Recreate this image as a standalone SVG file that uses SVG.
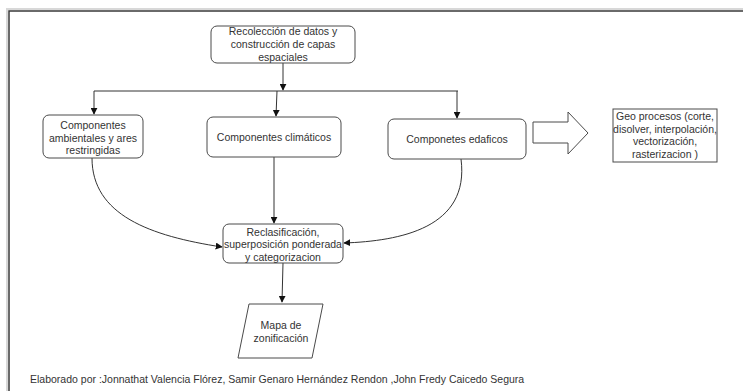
<svg xmlns="http://www.w3.org/2000/svg" width="743" height="391" viewBox="0 0 743 391">
<style>
text{font-family:"Liberation Sans",Arial,sans-serif;font-size:10.5px;fill:#333;text-anchor:middle}
.box{fill:#fff;stroke:#4a4a4a;stroke-width:1}
.ln{fill:none;stroke:#333;stroke-width:1}
</style>
<defs>
<marker id="ah" viewBox="0 0 10 10" refX="9" refY="5" markerWidth="7" markerHeight="7" markerUnits="userSpaceOnUse" orient="auto">
<path d="M0,0 L10,5 L0,10 z" fill="#111"/>
</marker>
</defs>
<rect width="743" height="391" fill="#fff"/>
<g id="frame">
<path d="M7,400 V9 H760" fill="none" stroke="#d8d8d8" stroke-width="2"/>
<path d="M9,400 V11 H760" fill="none" stroke="#3a3a3a" stroke-width="1.5"/>
</g>
<g id="connectors">
<path class="ln" d="M283,63 V90" marker-end="url(#ah)"/>
<path class="ln" d="M94,91 H458"/>
<path class="ln" d="M94,91 V114" marker-end="url(#ah)"/>
<path class="ln" d="M277,91 L276,116" marker-end="url(#ah)"/>
<path class="ln" d="M457,91 V118" marker-end="url(#ah)"/>
<path class="ln" d="M274,157 V223" marker-end="url(#ah)"/>
<path class="ln" d="M92,158 C92,215 150,236 222,247" marker-end="url(#ah)"/>
<path class="ln" d="M461,159 C470,228 400,241 344,243" marker-end="url(#ah)"/>
<path class="ln" d="M283,263 L282,302" marker-end="url(#ah)"/>
</g>
<g id="n-recoleccion">
<rect class="box" x="211" y="26" width="144" height="37" rx="6"/>
<text x="283" y="35">Recolección de datos y</text>
<text x="283" y="48">construcción de capas</text>
<text x="283" y="61">espaciales</text>
</g>
<g id="n-ambientales">
<rect class="box" x="43" y="115" width="100" height="43" rx="6"/>
<text x="93" y="129">Componentes</text>
<text x="93" y="142">ambientales y ares</text>
<text x="93" y="154">restringidas</text>
</g>
<g id="n-climaticos">
<rect class="box" x="207" y="117" width="134" height="40" rx="6"/>
<text x="274" y="141">Componentes climáticos</text>
</g>
<g id="n-edaficos">
<rect class="box" x="388" y="119" width="138" height="40" rx="6"/>
<text x="457" y="143">Componetes edaficos</text>
</g>
<g id="n-blockarrow">
<path class="box" d="M533,122 H568 V112 L588,133 L568,154 V143 H533 Z"/>
</g>
<g id="n-geoprocesos">
<rect class="box" x="613" y="109" width="104" height="53"/>
<text x="665" y="120">Geo procesos (corte,</text>
<text x="665" y="133">disolver, interpolación,</text>
<text x="665" y="145">vectorización,</text>
<text x="665" y="158">rasterizacion )</text>
</g>
<g id="n-reclasificacion">
<rect class="box" x="223" y="224" width="120" height="39" rx="6"/>
<text x="283" y="236">Reclasificación,</text>
<text x="283" y="248">superposición ponderada</text>
<text x="283" y="261">y categorizacion</text>
</g>
<g id="n-mapa">
<path class="box" d="M249,304 H323 L312,358 H238 Z"/>
<text x="281" y="329">Mapa de</text>
<text x="281" y="342">zonificación</text>
</g>
<g id="footer">
<text x="30" y="383" style="text-anchor:start">Elaborado por :Jonnathat Valencia Flórez, Samir Genaro Hernández Rendon ,John Fredy Caicedo Segura</text>
</g>
</svg>
